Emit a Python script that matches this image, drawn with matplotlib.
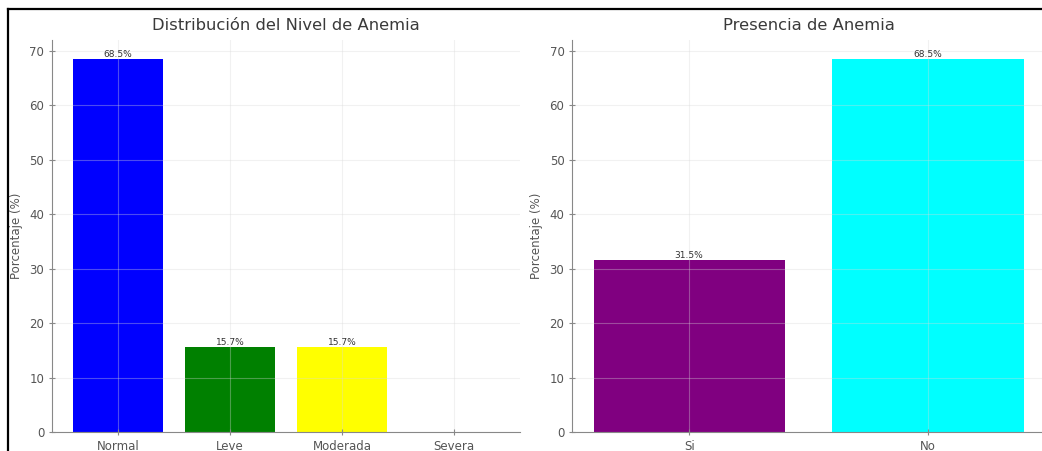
import matplotlib
matplotlib.use("Agg")
import matplotlib.pyplot as plt
from matplotlib.lines import Line2D

# anemia levels
niveles = ["Normal", "Leve", "Moderada", "Severa"]
pct_niveles = [68.5, 15.7, 15.7, 0.0]
colores_niveles = ["blue", "green", "yellow", "red"]

# presence of anemia
presencia = ["Si", "No"]
pct_presencia = [31.5, 68.5]
colores_presencia = ["purple", "cyan"]

fig = plt.figure(figsize=(10.42, 4.51), dpi=100)
ax1 = fig.add_axes([0.0499, 0.042, 0.449, 0.869])
ax2 = fig.add_axes([0.549, 0.042, 0.454, 0.869])


def draw(ax, cats, vals, cols, title):
    bars = ax.bar(cats, vals, color=cols, width=0.8)
    for b, v in zip(bars, vals):
        if v > 0:
            ax.text(b.get_x() + b.get_width() / 2, v, f"{v:.1f}%",
                    ha="center", va="bottom", fontsize=6.5, color="#333333")
    ax.set_title(title, fontsize=11.8, color="#3a3a3a", pad=7)
    ax.set_ylabel("Porcentaje (%)", fontsize=8.5, color="#555555", labelpad=5)
    ax.grid(True, color="#d8d8d8", linewidth=0.8, alpha=0.35)
    ax.set_axisbelow(False)
    for s in ["top", "right"]:
        ax.spines[s].set_visible(False)
    for s in ["left", "bottom"]:
        ax.spines[s].set_color("#888888")
    ax.tick_params(axis="both", colors="#888888", labelcolor="#555555",
                   labelsize=8.5, length=4, direction="inout")
    ax.set_yticks(range(0, 71, 10))


draw(ax1, niveles, pct_niveles, colores_niveles, "Distribución del Nivel de Anemia")
draw(ax2, presencia, pct_presencia, colores_presencia, "Presencia de Anemia")

# frame lines along top and left edges
fig.add_artist(Line2D([8 / 1042, 1.0], [1 - 9 / 451, 1 - 9 / 451],
                      transform=fig.transFigure, color="black", linewidth=1.6))
fig.add_artist(Line2D([8 / 1042, 8 / 1042], [0.0, 1 - 9 / 451],
                      transform=fig.transFigure, color="black", linewidth=1.6))

fig.savefig("out.png", dpi=100)
